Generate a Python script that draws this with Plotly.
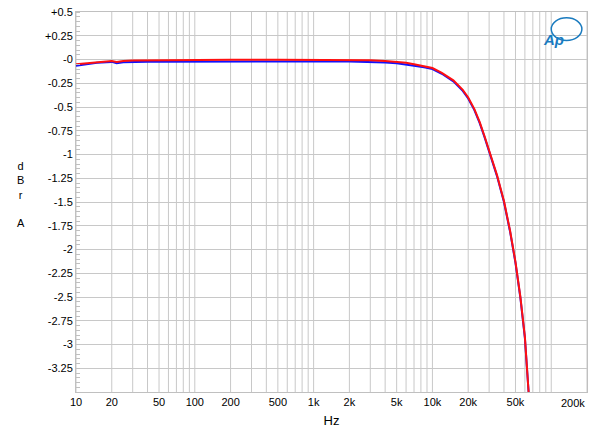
import plotly.graph_objects as go
import numpy as np

freq = [10, 12, 15, 20, 22, 25, 30, 40, 50, 70, 100, 200, 500, 1000, 2000, 3000, 4000, 5000, 6000, 7000, 8500,
        10000, 12000, 15000, 18000, 20000, 22500, 25000, 27500, 30000, 35000, 40000, 45000, 50000, 55000, 60000, 64500]
red = [-0.05, -0.04, -0.025, -0.015, -0.025, -0.015, -0.01, -0.008, -0.006, -0.005, -0.004, -0.003, -0.003,
       -0.003, -0.004, -0.008, -0.015, -0.025, -0.035, -0.05, -0.07, -0.09, -0.14, -0.22, -0.32, -0.40, -0.52,
       -0.66, -0.81, -0.96, -1.22, -1.49, -1.80, -2.13, -2.50, -2.92, -3.5]
blue = [-0.065, -0.05, -0.035, -0.025, -0.04, -0.03, -0.025, -0.024, -0.023, -0.022, -0.022, -0.021, -0.021,
        -0.021, -0.022, -0.026, -0.032, -0.04, -0.05, -0.065, -0.082, -0.10, -0.15, -0.23, -0.33, -0.41, -0.53,
        -0.67, -0.82, -0.97, -1.23, -1.50, -1.81, -2.14, -2.51, -2.93, -3.5]

xticks = [10, 20, 50, 100, 200, 500, 1000, 2000, 5000, 10000, 20000, 50000]
xlabels = ["10", "20", "50", "100", "200", "500", "1k", "2k", "5k", "10k", "20k", "50k"]
yticks = [0.5, 0.25, 0, -0.25, -0.5, -0.75, -1, -1.25, -1.5, -1.75, -2, -2.25, -2.5, -2.75, -3, -3.25]
ylabels = ["+0.5", "+0.25", "-0", "-0.25", "-0.5", "-0.75", "-1", "-1.25", "-1.5", "-1.75", "-2",
           "-2.25", "-2.5", "-2.75", "-3", "-3.25"]

fig = go.Figure()
fig.add_trace(go.Scatter(x=freq, y=blue, mode="lines", line=dict(color="#1010ff", width=2)))
fig.add_trace(go.Scatter(x=freq, y=red, mode="lines", line=dict(color="#ff1010", width=2)))

minor = []
for d in [10, 100, 1000, 10000, 100000]:
    for m in range(1, 10):
        v = d * m
        if v <= 200000:
            minor.append(v)
for v in minor:
    fig.add_shape(type="line", x0=v, x1=v, y0=0, y1=1, xref="x", yref="paper",
                  line=dict(color="#c8c8c8", width=1), layer="below")

fig.update_layout(
    width=584, height=420, margin=dict(l=68, r=5, t=4, b=36, autoexpand=False),
    paper_bgcolor="white", plot_bgcolor="white", showlegend=False,
    font=dict(family="Liberation Sans, Arial", size=11, color="black"),
    xaxis=dict(type="log", range=[1, np.log10(200000)], tickvals=xticks, ticktext=xlabels,
               showgrid=False, showline=True, linecolor="#c0c0c0", mirror=True, ticks="",
               automargin=False, title=dict(text="Hz", standoff=8)),
    yaxis=dict(range=[-3.5, 0.5], tickvals=yticks, ticktext=ylabels, showgrid=True, automargin=False,
               ticklabeloverflow="allow",
               gridcolor="#c8c8c8", zeroline=False, showline=True, linecolor="#c0c0c0", mirror=True,
               ticks="", minor=dict(dtick=0.05, ticks="inside", ticklen=4, tickcolor="#c0c0c0", showgrid=False)),
)
fig.add_annotation(x=1.0, y=0, xref="paper", yref="paper", yanchor="top", yshift=-3, text="200k",
                   showarrow=False, font=dict(size=11))
fig.add_annotation(x=-0.119, y=0.52, xref="paper", yref="paper", text="d<br>B<br>r<br><br>A",
                   showarrow=False, font=dict(size=11), align="center")
fig.add_shape(type="circle", xref="paper", yref="paper", x0=0.93, x1=0.99, y0=0.925, y1=0.985,
              line=dict(color="#1a7bbf", width=1.5))
fig.add_annotation(x=0.958, y=0.955, xref="paper", yref="paper", text="<i><b>Ap</b></i>",
                   showarrow=False, font=dict(size=15, color="#1a7bbf"))
fig.write_html("out.html")
